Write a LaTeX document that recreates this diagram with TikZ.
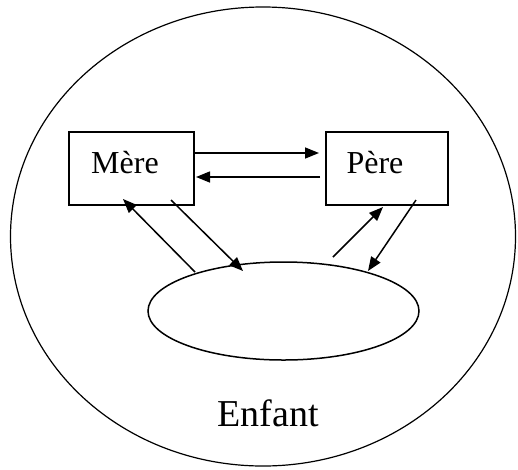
\documentclass[tikz,border=0pt]{standalone}
\usepackage{fontspec}
\setmainfont{Liberation Serif}
\usetikzlibrary{shapes.geometric,arrows.meta}
\begin{document}
\begin{tikzpicture}[x=1pt,y=-1pt,
  ln/.style={line width=1.5pt},
  box/.style={draw,ln,minimum width=125pt,minimum height=73pt,inner sep=0pt},
  arr/.style={ln,-{Triangle[length=14pt,width=11pt]}}]
\useasboundingbox (0,0) rectangle (518,469);
\node[draw,line width=1.2pt,ellipse,minimum width=505pt,minimum height=459pt,inner sep=0pt] (outer) at (263,236.5) {};
\node[draw,ln,ellipse,minimum width=271pt,minimum height=98pt,inner sep=0pt] (child) at (283.5,311) {};
\node[box] (mere) at (131.5,168.5) {};
\node[box,minimum width=122pt] (pere) at (387,168.5) {};
\node[font=\fontsize{32}{36}\selectfont] (tm) at (125,163) {Mère};
\node[font=\fontsize{32}{36}\selectfont] (tp) at (375,163) {Père};
\node[font=\fontsize{38}{42}\selectfont] (enf) at (268,413) {Enfant};
% connector end points
\coordinate (a1) at (195,272); \coordinate (a2) at (123,199);
\coordinate (b1) at (171,200); \coordinate (b2) at (243,271);
\coordinate (c1) at (333,257); \coordinate (c2) at (383,207);
\coordinate (d1) at (416,200); \coordinate (d2) at (368,271);
\coordinate (h1) at (195,153); \coordinate (h2) at (319,153);
\coordinate (g1) at (320,177); \coordinate (g2) at (196,177);
\draw[arr] (h1) -- (h2);
\draw[arr] (g1) -- (g2);
\draw[arr] (a1) -- (a2);
\draw[arr] (b1) -- (b2);
\draw[arr] (c1) -- (c2);
\draw[arr] (d1) -- (d2);
\end{tikzpicture}
\end{document}
